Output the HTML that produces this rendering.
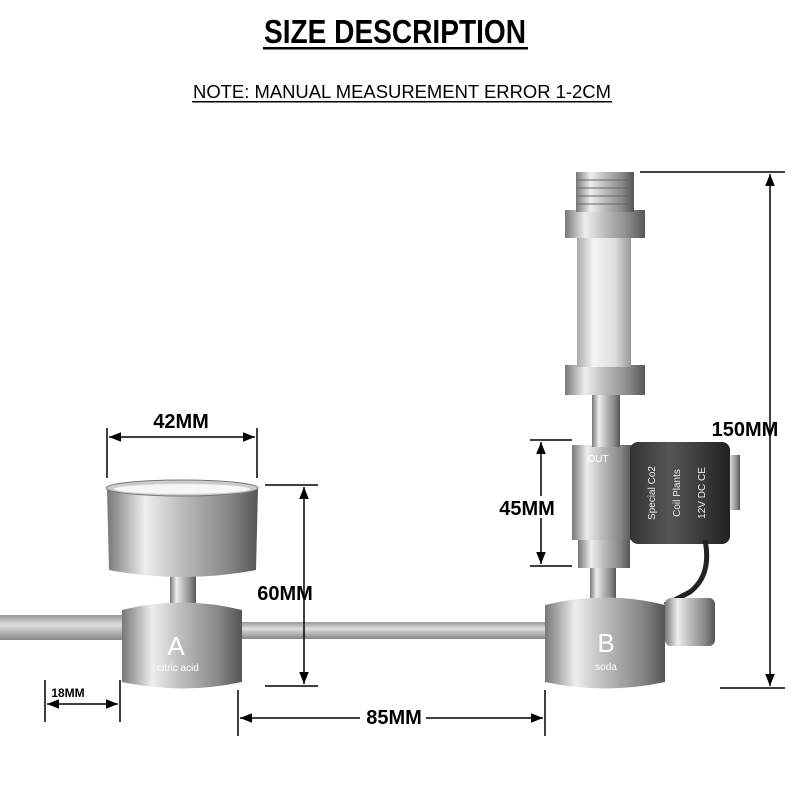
<!DOCTYPE html>
<html><head><meta charset="utf-8"><style>
html,body{margin:0;padding:0;background:#fff}
svg{display:block}
text{font-family:"Liberation Sans",sans-serif}
</style></head><body>
<svg width="800" height="800" viewBox="0 0 800 800" xmlns="http://www.w3.org/2000/svg">
<defs>
<linearGradient id="m" x1="0" x2="1"><stop offset="0" stop-color="#777"/><stop offset=".25" stop-color="#eee"/><stop offset=".5" stop-color="#bbb"/><stop offset=".8" stop-color="#888"/><stop offset="1" stop-color="#555"/></linearGradient>
<linearGradient id="tube" x1="0" y1="0" x2="0" y2="1"><stop offset="0" stop-color="#999"/><stop offset=".4" stop-color="#ddd"/><stop offset="1" stop-color="#888"/></linearGradient>
<linearGradient id="glass" x1="0" x2="1"><stop offset="0" stop-color="#aaa"/><stop offset=".3" stop-color="#f4f4f4"/><stop offset=".7" stop-color="#ddd"/><stop offset="1" stop-color="#999"/></linearGradient>
<linearGradient id="dark" x1="0" x2="1"><stop offset="0" stop-color="#333"/><stop offset=".4" stop-color="#555"/><stop offset="1" stop-color="#222"/></linearGradient>
<marker id="a" viewBox="0 0 10 10" refX="10" refY="5" markerWidth="8" markerHeight="8" orient="auto-start-reverse"><path d="M0,1 L10,5 L0,9 z" fill="#000"/></marker>
</defs>
<text x="395" y="43" font-size="33" text-anchor="middle" font-weight="bold" textLength="262" lengthAdjust="spacingAndGlyphs">SIZE DESCRIPTION</text>
<rect x="263" y="47" width="265" height="2.5" fill="#000"/>
<text x="402" y="98" font-size="18" text-anchor="middle" textLength="418" lengthAdjust="spacingAndGlyphs">NOTE: MANUAL MEASUREMENT ERROR 1-2CM</text>
<rect x="192" y="101" width="420" height="1.5" fill="#000"/>

<rect x="0" y="615" width="125" height="25" fill="url(#tube)"/>
<rect x="240" y="622" width="308" height="17" fill="url(#tube)"/>

<rect x="170" y="575" width="26" height="32" fill="url(#m)"/>
<path d="M107,488 L258,488 L256,570 Q182,584 109,570 Z" fill="url(#m)"/>
<ellipse cx="182" cy="488" rx="76" ry="8" fill="#ccc" stroke="#777"/>
<ellipse cx="182" cy="489" rx="68" ry="5" fill="#f6f6f6"/>
<path d="M122,610 Q182,595 242,610 L242,682 Q182,695 122,682 Z" fill="url(#m)"/>
<text x="176" y="655" font-size="26" fill="#fff" text-anchor="middle">A</text>
<text x="178" y="671" font-size="10" fill="#fff" text-anchor="middle">citric acid</text>

<rect x="590" y="565" width="26" height="42" fill="url(#m)"/>
<rect x="578" y="538" width="52" height="30" fill="url(#m)"/>
<rect x="572" y="445" width="60" height="95" fill="url(#m)"/>
<text x="598" y="462" font-size="10" fill="#fff" text-anchor="middle">OUT</text>
<rect x="592" y="392" width="28" height="55" fill="url(#m)"/>
<rect x="565" y="365" width="80" height="30" fill="url(#m)"/>
<rect x="577" y="235" width="54" height="132" fill="url(#glass)"/>
<rect x="565" y="210" width="80" height="28" fill="url(#m)"/>
<rect x="576" y="172" width="58" height="40" fill="url(#m)"/>
<g stroke="#666" stroke-width="1"><line x1="576" y1="180" x2="634" y2="180"/><line x1="576" y1="188" x2="634" y2="188"/><line x1="576" y1="196" x2="634" y2="196"/><line x1="576" y1="204" x2="634" y2="204"/></g>
<rect x="725" y="455" width="15" height="55" fill="url(#m)"/>
<rect x="630" y="442" width="100" height="102" rx="8" fill="url(#dark)"/>
<g transform="translate(680,493) rotate(-90)" fill="#eee" font-size="10" text-anchor="middle">
<text y="-25">Special Co2</text><text y="0">Coil Plants</text><text y="25">12V  DC CE</text></g>
<path d="M705,540 Q712,575 690,592 L665,605" stroke="#222" stroke-width="5" fill="none"/>
<path d="M545,605 Q605,590 665,605 L665,682 Q605,695 545,682 Z" fill="url(#m)"/>
<rect x="665" y="598" width="50" height="48" rx="6" fill="url(#m)"/>
<text x="606" y="652" font-size="26" fill="#fff" text-anchor="middle">B</text>
<text x="606" y="670" font-size="10" fill="#fff" text-anchor="middle">soda</text>

<g stroke="#000" stroke-width="1.5" fill="none">
<line x1="107" y1="428" x2="107" y2="478"/><line x1="257" y1="428" x2="257" y2="478"/>
<line x1="109" y1="437" x2="255" y2="437" marker-start="url(#a)" marker-end="url(#a)"/>
<line x1="265" y1="485" x2="318" y2="485"/><line x1="265" y1="686" x2="318" y2="686"/>
<line x1="304" y1="487" x2="304" y2="684" marker-start="url(#a)" marker-end="url(#a)"/>
<line x1="45" y1="680" x2="45" y2="722"/><line x1="120" y1="680" x2="120" y2="722"/>
<line x1="47" y1="704" x2="118" y2="704" marker-start="url(#a)" marker-end="url(#a)"/>
<line x1="238" y1="690" x2="238" y2="736"/><line x1="545" y1="690" x2="545" y2="736"/>
<line x1="240" y1="718" x2="543" y2="718" marker-start="url(#a)" marker-end="url(#a)"/>
<line x1="530" y1="440" x2="572" y2="440"/><line x1="530" y1="566" x2="572" y2="566"/>
<line x1="541" y1="442" x2="541" y2="564" marker-start="url(#a)" marker-end="url(#a)"/>
<line x1="640" y1="172" x2="785" y2="172"/><line x1="720" y1="688" x2="785" y2="688"/>
<line x1="770" y1="174" x2="770" y2="686" marker-start="url(#a)" marker-end="url(#a)"/>
</g>
<rect x="360" y="706" width="66" height="22" fill="#fff"/>
<rect x="498" y="496" width="58" height="22" fill="#fff"/>
<g font-weight="bold" font-size="20" text-anchor="middle">
<text x="181" y="428">42MM</text>
<text x="285" y="600">60MM</text>
<text x="68" y="697" font-size="12">18MM</text>
<text x="394" y="724">85MM</text>
<text x="527" y="515">45MM</text>
<text x="745" y="436">150MM</text>
</g>
</svg>
</body></html>
